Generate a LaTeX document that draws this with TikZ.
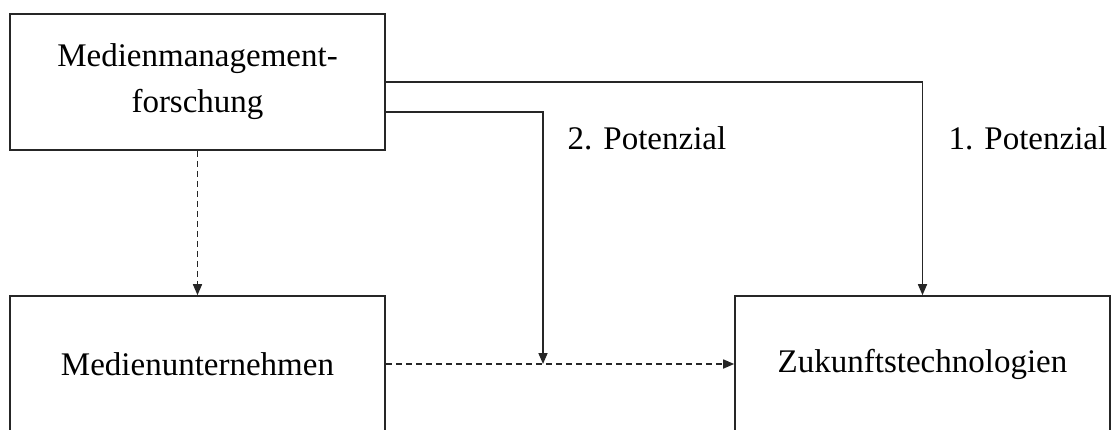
\documentclass[tikz,border=0pt]{standalone}
\usepackage{fontspec}
\setmainfont{Liberation Serif}
\usetikzlibrary{arrows.meta}
\begin{document}
\begin{tikzpicture}[x=1pt,y=-1pt,
  box/.style={draw=black!85,line width=1.6pt,rectangle,minimum width=375pt,minimum height=136pt,inner sep=0pt,align=center,font=\fontsize{33}{40}\selectfont},
  conn/.style={draw=black!85,line width=1.6pt,-{Triangle[length=11pt,width=9pt]}},
  dconn/.style={conn,dash pattern=on 6pt off 4pt},
  lab/.style={inner sep=0pt,font=\fontsize{33}{40}\selectfont}]
\useasboundingbox (0,0) rectangle (1117,429);
\clip (0,0) rectangle (1117,429);
\node[box] (top) at (197.5,82) {Medienmanagement-\\[6pt]forschung};
\node[box] (bl) at (197.5,364) {Medienunternehmen};
\node[box] (br) at (922.5,364) {Zukunftstechnologien};
\coordinate (j) at (543,364);
\coordinate (s2) at (385,112);
\draw[conn] (top.east) -| (br.north);
\draw[conn] (s2) -| (j);
\draw[dconn] (top.south) -- (bl.north);
\draw[dconn] (bl.east) -- (br.west);
\node[lab] (p2) at (647,138) {2. Potenzial};
\node[lab] (p1) at (1028,138) {1. Potenzial};
\end{tikzpicture}
\end{document}
